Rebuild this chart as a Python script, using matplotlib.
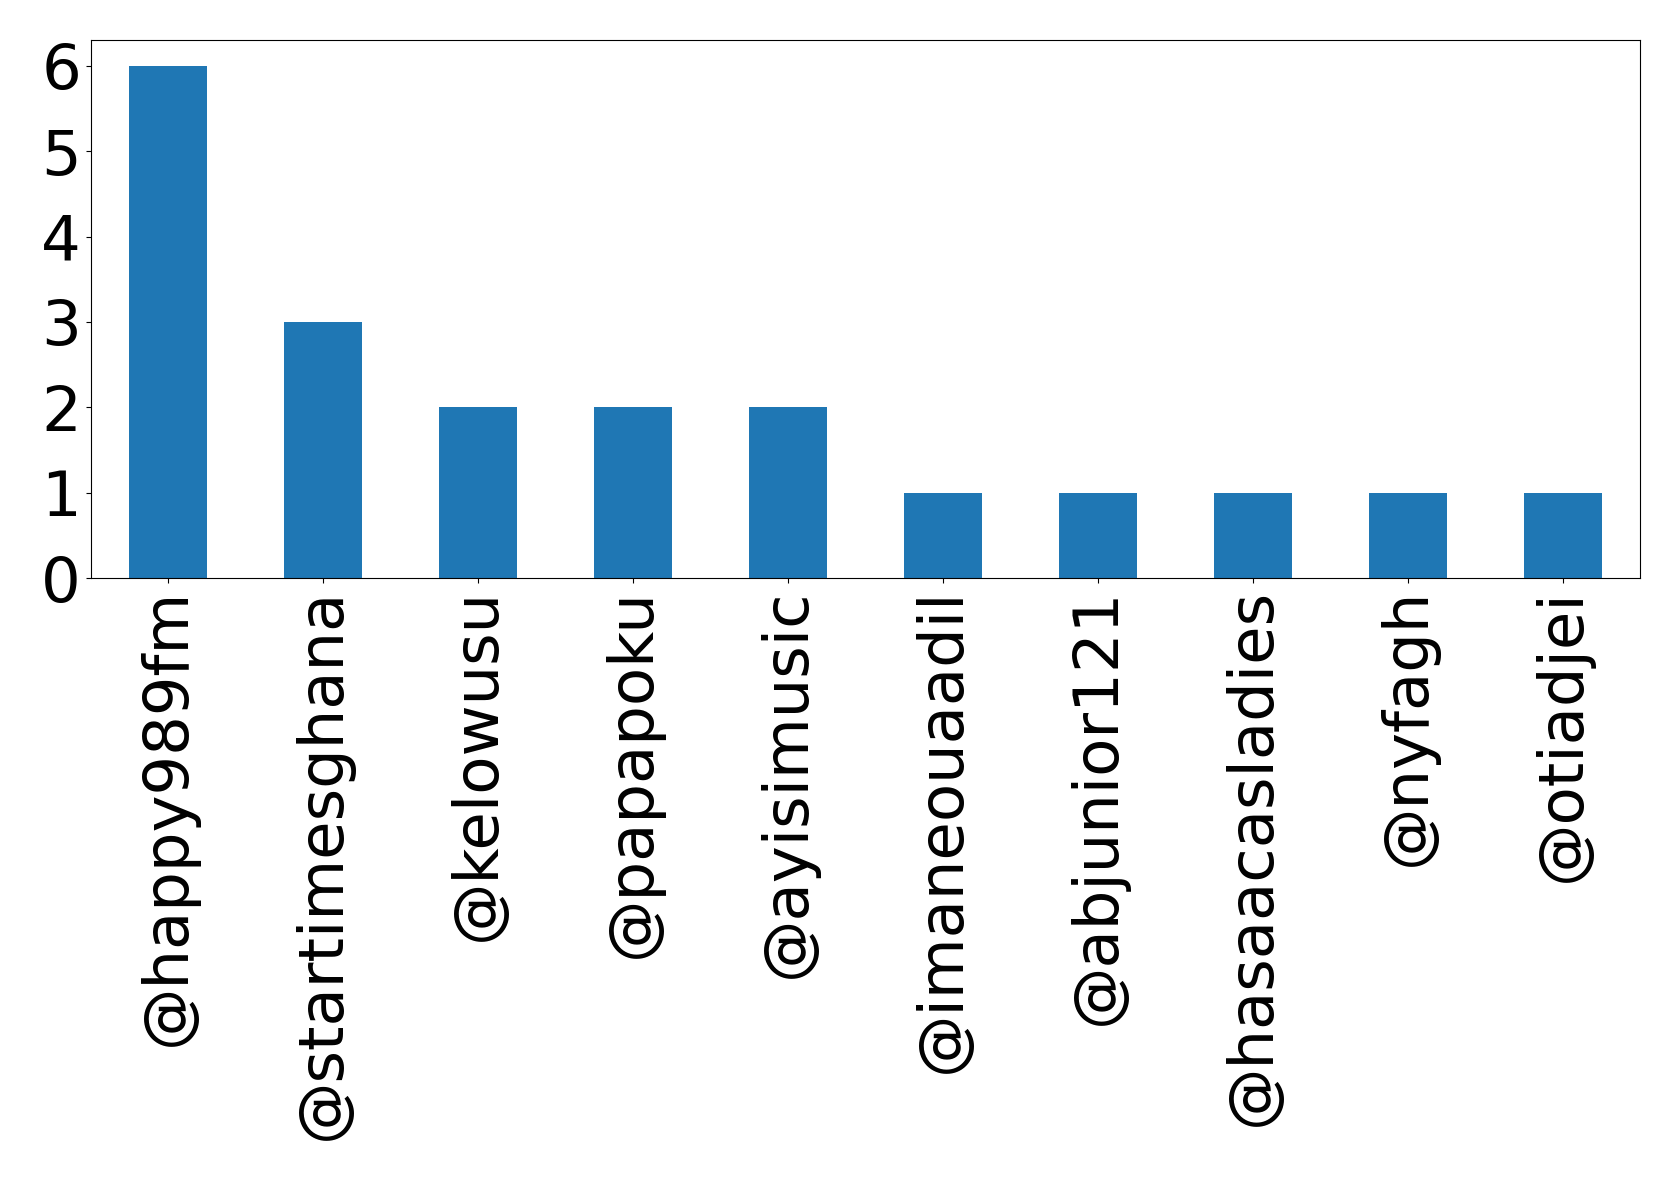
import numpy as np
import matplotlib.pyplot as plt

# mention counts per account
users = ['@happy989fm', '@startimesghana', '@kelowusu', '@papapoku', '@ayisimusic',
         '@imaneouaadil', '@abjunior121', '@hasaacasladies', '@nyfagh', '@otiadjei']
counts = [6, 3, 2, 2, 2, 1, 1, 1, 1, 1]

fig = plt.figure(figsize=(16.79, 11.8), dpi=100)
ax = fig.add_axes([0.054, 0.510, 0.923, 0.456])
x = np.arange(len(users))
ax.bar(x, counts, width=0.5, color='#1f77b4')
ax.set_xlim(-0.5, len(users) - 0.5)
ax.set_xticks(x)
ax.set_xticklabels(users, rotation=90)
ax.set_yticks(range(0, 7))
ax.tick_params(axis='both', labelsize=45)
fig.savefig('out.png', dpi=100)
